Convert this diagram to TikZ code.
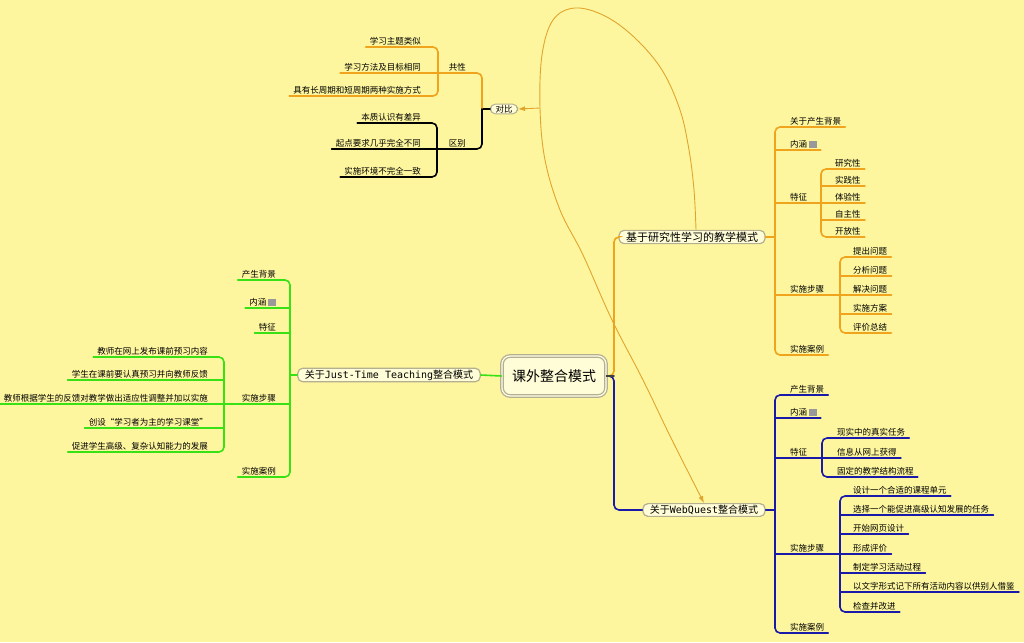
\documentclass[tikz,border=0pt]{standalone}
\usepackage{fontspec}
\setmainfont{Noto Sans CJK SC}
\newfontfamily\lat{DejaVu Sans Mono}
\usetikzlibrary{arrows.meta}
\definecolor{bg}{RGB}{253,246,158}
\definecolor{orn}{RGB}{240,163,28}
\definecolor{grn}{RGB}{55,225,20}
\definecolor{blu}{RGB}{25,25,170}
\definecolor{boxfill}{RGB}{255,253,215}
\definecolor{boxline}{RGB}{180,175,145}
\definecolor{relc}{RGB}{225,165,45}
\newcommand\noteicon{\,\textcolor{gray!80}{\rule[-0.5pt]{8pt}{7pt}}}
\begin{document}
\begin{tikzpicture}[x=1pt,y=-1pt,
  leaf/.style={font=\fontsize{8.5}{10}\selectfont, inner xsep=4pt, inner ysep=1.2pt},
  rl/.style={leaf, anchor=south west},
  ll/.style={leaf, anchor=south east},
  br/.style={line width=1.6pt, line cap=round},
  rc/.style={rounded corners=5pt},
  mid/.style={draw=boxline, fill=boxfill, line width=1.2pt, rounded corners=5pt, inner xsep=7pt, inner ysep=1.5pt},
  ctrbox/.style={draw=boxline, fill=boxfill, line width=1.3pt, double=boxfill!60!white, double distance=1.2pt, rounded corners=8pt, minimum width=104pt, minimum height=40pt, font=\fontsize{14}{16}\selectfont},
  dbbox/.style={draw=boxline, fill=boxfill, line width=1pt, rounded corners=5pt, inner xsep=5pt, inner ysep=1pt, font=\fontsize{8.5}{10}\selectfont},
  rel/.style={draw=relc, line width=0.9pt},
  tip/.style={-{Latex[length=7pt,width=5pt]}}
]
\fill[bg] (0,0) rectangle (1024,642);
\useasboundingbox (0,0) rectangle (1024,642);

% ---------- centre ----------
\node[ctrbox] (root) at (554,376) {课外整合模式};

% ---------- left: Just-Time Teaching ----------
\node[mid, font=\fontsize{10}{12}\selectfont] (jt) at (389,375) {关于{\lat Just-Time Teaching}整合模式};
\draw[grn, br] (root.west) -- (jt.east);
\node[ll] (l1) at (280,280) {产生背景};
\node[ll] (l2) at (280,308) {内涵\noteicon};
\node[ll] (l3) at (280,333) {特征};
\node[ll] (l4) at (280,404) {实施步骤};
\node[ll] (l5) at (280,477) {实施案例};
\draw[grn, br, rc] (l1.south west) -- (290,280) -- (290,477) -- (l5.south west);
\draw[grn, br] (290,308) -- (l2.south west);
\draw[grn, br] (290,333) -- (l3.south west);
\draw[grn, br] (290,404) -- (224,404);
\draw[grn, br] (jt.west) -- (290,375);
\node[ll] (l4a) at (212,357) {教师在网上发布课前预习内容};
\node[ll] (l4b) at (212,380) {学生在课前要认真预习并向教师反馈};
\node[ll] (l4c) at (212,404) {教师根据学生的反馈对教学做出适应性调整并加以实施};
\node[ll] (l4d) at (212,428) {创设“学习者为主的学习课堂”};
\node[ll] (l4e) at (212,452) {促进学生高级、复杂认知能力的发展};
\draw[grn, br, rc] (l4a.south west) -- (224,357) -- (224,452) -- (l4e.south west);
\draw[grn, br] (224,380) -- (l4b.south west);
\draw[grn, br] (224,404) -- (l4c.south west);
\draw[grn, br] (224,428) -- (l4d.south west);

% ---------- right top: 研究性学习 ----------
\node[mid, font=\fontsize{11}{13}\selectfont] (jy) at (692,237) {基于研究性学习的教学模式};
\draw[orn, br, rc] (root.east) -- (614,376) -- (614,237) -- (jy.west);
\node[rl] (r1) at (786,127) {关于产生背景};
\node[rl] (r2) at (786,150) {内涵\noteicon};
\node[rl] (r3) at (786,203) {特征};
\node[rl] (r4) at (786,295) {实施步骤};
\node[rl] (r5) at (786,355) {实施案例};
\draw[orn, br, rc] (r1.south east) -- (775,127) -- (775,355) -- (r5.south east);
\draw[orn, br] (775,150) -- (r2.south east);
\draw[orn, br] (775,203) -- (821,203);
\draw[orn, br] (775,295) -- (840,295);
\draw[orn, br] (jy.east) -- (775,237);
\node[rl] (r3a) at (831,169) {研究性};
\node[rl] (r3b) at (831,186) {实践性};
\node[rl] (r3c) at (831,203) {体验性};
\node[rl] (r3d) at (831,220) {自主性};
\node[rl] (r3e) at (831,237) {开放性};
\draw[orn, br, rc] (r3a.south east) -- (821,169) -- (821,237) -- (r3e.south east);
\draw[orn, br] (821,186) -- (r3b.south east);
\draw[orn, br] (821,203) -- (r3c.south east);
\draw[orn, br] (821,220) -- (r3d.south east);
\node[rl] (r4a) at (849,257) {提出问题};
\node[rl] (r4b) at (849,276) {分析问题};
\node[rl] (r4c) at (849,295) {解决问题};
\node[rl] (r4d) at (849,314) {实施方案};
\node[rl] (r4e) at (849,333) {评价总结};
\draw[orn, br, rc] (r4a.south east) -- (840,257) -- (840,333) -- (r4e.south east);
\draw[orn, br] (840,276) -- (r4b.south east);
\draw[orn, br] (840,295) -- (r4c.south east);
\draw[orn, br] (840,314) -- (r4d.south east);

% ---------- right bottom: WebQuest ----------
\node[mid, font=\fontsize{10}{12}\selectfont] (wq) at (704,510) {关于{\lat WebQuest}整合模式};
\draw[blu, br, rc] (root.east) -- (614,376) -- (614,510) -- (wq.west);
\draw[black!75, br] (root.east) -- (614,376);
\node[rl] (b1) at (786,395) {产生背景};
\node[rl] (b2) at (786,418) {内涵\noteicon};
\node[rl] (b3) at (786,458) {特征};
\node[rl] (b4) at (786,554) {实施步骤};
\node[rl] (b5) at (786,633) {实施案例};
\draw[blu, br, rc] (b1.south east) -- (775,395) -- (775,633) -- (b5.south east);
\draw[blu, br] (775,418) -- (b2.south east);
\draw[blu, br] (775,458) -- (822,458);
\draw[blu, br] (775,554) -- (840,554);
\draw[blu, br] (wq.east) -- (775,510);
\node[rl] (b3a) at (833,438) {现实中的真实任务};
\node[rl] (b3b) at (833,458) {信息从网上获得};
\node[rl] (b3c) at (833,477) {固定的教学结构流程};
\draw[blu, br, rc] (b3a.south east) -- (822,438) -- (822,477) -- (b3c.south east);
\draw[blu, br] (822,458) -- (b3b.south east);
\node[rl] (b4a) at (849,496) {设计一个合适的课程单元};
\node[rl] (b4b) at (849,515) {选择一个能促进高级认知发展的任务};
\node[rl] (b4c) at (849,534) {开始网页设计};
\node[rl] (b4d) at (849,554) {形成评价};
\node[rl] (b4e) at (849,573) {制定学习活动过程};
\node[rl] (b4f) at (849,592) {以文字形式记下所有活动内容以供别人借鉴};
\node[rl] (b4g) at (849,612) {检查并改进};
\draw[blu, br, rc] (b4a.south east) -- (840,496) -- (840,612) -- (b4g.south east);
\draw[blu, br] (840,515) -- (b4b.south east);
\draw[blu, br] (840,534) -- (b4c.south east);
\draw[blu, br] (840,554) -- (b4d.south east);
\draw[blu, br] (840,573) -- (b4e.south east);
\draw[blu, br] (840,592) -- (b4f.south east);

% ---------- top left: 对比 ----------
\node[dbbox] (db) at (504,109) {对比};
\node[ll] (g1) at (470,73) {共性};
\node[ll] (g2) at (470,149) {区别};
\draw[black, br] (db.west) -- (482,109);
\draw[orn, br, rc] (482,109) -- (482,73) -- (438,73);
\draw[black, br, rc] (482,109) -- (482,149) -- (437,149);
\node[ll] (c1) at (425,47) {学习主题类似};
\node[ll] (c2) at (425,73) {学习方法及目标相同};
\node[ll] (c3) at (425,96) {具有长周期和短周期两种实施方式};
\draw[orn, br, rc] (c1.south west) -- (438,47) -- (438,96) -- (c3.south west);
\draw[orn, br] (438,73) -- (c2.south west);
\node[ll] (d1) at (425,123) {本质认识有差异};
\node[ll] (d2) at (425,149) {起点要求几乎完全不同};
\node[ll] (d3) at (425,177) {实施环境不完全一致};
\draw[black, br, rc] (d1.south west) -- (437,123) -- (437,177) -- (d3.south west);
\draw[black, br] (437,149) -- (d2.south west);

% ---------- relation curve ----------
\coordinate (relstart) at ([xshift=4pt]jy.north);
\coordinate (loopL) at (540,108);
\draw[rel, tip] plot[smooth, tension=0.6] coordinates {(relstart) (694,190) (689,150) (680,110) (662,70) (635,38) (605,16) (575,8) (553,20) (542,55) (loopL) (545,160) (560,210) (583,255) (612,320) (643,380) (672,440) (wq.north)};
\draw[rel, tip] (loopL) -- (db.east);
\end{tikzpicture}
\end{document}
